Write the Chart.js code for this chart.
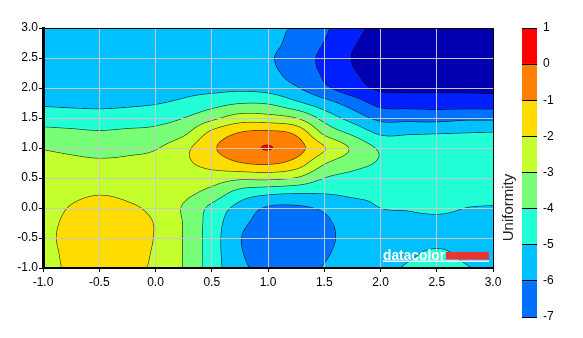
<!DOCTYPE html>
<html lang="en">
<head>
<meta charset="UTF-8">
<title>Uniformity</title>
<script src="https://cdn.jsdelivr.net/npm/chart.js@4"></script>
<style>
  html, body { margin: 0; padding: 0; background: #fff; }
  #wrap { position: relative; width: 583px; height: 338px; }
  #plotBox { position: absolute; left: 0; top: 0; width: 583px; height: 338px; }
  #barBox { position: absolute; left: 500px; top: 0; width: 83px; height: 338px; }
</style>
</head>
<body>
<div id="wrap">
  <div id="plotBox"><canvas id="plot"></canvas></div>
  <div id="barBox"><canvas id="scaleBar"></canvas></div>
</div>
<script>
// grid positions (every 0.25)
const xGrid = [-1, -0.75, -0.5, -0.25, 0, 0.25, 0.5, 0.75, 1, 1.25, 1.5, 1.75, 2, 2.25, 2.5, 2.75, 3];
const yGrid = [3, 2.75, 2.5, 2.25, 2, 1.75, 1.5, 1.25, 1, 0.75, 0.5, 0.25, 0, -0.25, -0.5, -0.75, -1];

// uniformity values, one row per y, x from -1 to 3
const rowY300 = [-5.45, -5.45, -5.45, -5.5, -5.5, -5.55, -5.65, -5.7, -5.85, -6.1, -6.83, -7.67, -8.3, -8.6, -8.8, -8.9, -9.0];
const rowY275 = [-5.45, -5.45, -5.45, -5.48, -5.5, -5.6, -5.7, -5.75, -5.78, -6.3, -7.03, -7.9, -8.35, -8.65, -8.85, -8.95, -9.0];
const rowY250 = [-5.4, -5.42, -5.42, -5.45, -5.45, -5.55, -5.7, -5.8, -5.9, -6.5, -7.23, -8.03, -8.4, -8.65, -8.85, -8.9, -8.95];
const rowY225 = [-5.35, -5.37, -5.38, -5.4, -5.4, -5.45, -5.5, -5.6, -5.75, -6.4, -7.13, -7.9, -8.3, -8.5, -8.65, -8.7, -8.75];
const rowY200 = [-5.25, -5.28, -5.3, -5.32, -5.3, -5.25, -5.25, -5.2, -5.35, -5.9, -6.8, -7.57, -8.15, -8.2, -8.2, -8.2, -8.25];
const rowY175 = [-5.12, -5.18, -5.22, -5.15, -5.05, -4.82, -4.4, -4.05, -4.1, -4.8, -5.6, -6.45, -7.32, -7.4, -7.45, -7.48, -7.5];
const rowY150 = [-4.42, -4.5, -4.55, -4.5, -4.35, -4.0, -3.25, -2.55, -2.6, -3.0, -4.35, -5.4, -6.25, -6.3, -6.35, -6.2, -6.2];
const rowY125 = [-3.71, -3.8, -3.9, -3.8, -3.7, -3.2, -1.75, -0.95, -0.75, -1.2, -3.2, -4.2, -5.15, -5.1, -5.05, -5.0, -4.95];
const rowY100 = [-3.05, -3.2, -3.35, -3.25, -3.07, -2.3, -1.15, -0.45, 0.03, -0.6, -1.95, -3.15, -4.15, -4.5, -4.55, -4.5, -4.5];
const rowY075 = [-2.75, -2.8, -2.85, -2.8, -2.65, -2.2, -1.6, -1.05, -0.85, -1.4, -2.9, -3.6, -4.1, -4.4, -4.45, -4.4, -4.4];
const rowY050 = [-2.6, -2.5, -2.45, -2.45, -2.45, -2.55, -2.55, -2.8, -2.75, -3.05, -4.0, -4.35, -4.6, -4.55, -4.5, -4.45, -4.5];
const rowY025 = [-2.5, -2.2, -2.05, -2.15, -2.3, -2.75, -3.35, -4.4, -4.8, -4.95, -4.95, -4.85, -4.9, -4.75, -4.65, -4.75, -4.75];
const rowY000 = [-2.4, -1.95, -1.75, -1.9, -2.2, -3.1, -4.25, -5.35, -6.1, -6.15, -5.85, -5.3, -5.0, -4.95, -4.85, -5.0, -5.05];
const rowYm025 = [-2.3, -1.8, -1.55, -1.75, -2.05, -3.05, -4.45, -5.75, -6.3, -6.4, -6.15, -5.6, -5.35, -5.2, -5.2, -5.2, -5.3];
const rowYm050 = [-2.25, -1.75, -1.5, -1.72, -2.05, -3.05, -4.5, -5.95, -6.4, -6.45, -6.2, -5.7, -5.5, -5.3, -5.25, -5.25, -5.35];
const rowYm075 = [-2.3, -1.8, -1.55, -1.75, -2.1, -3.05, -4.5, -5.9, -6.35, -6.4, -6.1, -5.65, -5.45, -5.15, -4.88, -5.15, -5.3];
const rowYm100 = [-2.35, -1.85, -1.65, -1.8, -2.15, -3.05, -4.5, -5.75, -6.3, -6.3, -5.95, -5.55, -5.3, -4.88, -4.55, -4.93, -5.2];

const zGrid = [rowY300, rowY275, rowY250, rowY225, rowY200, rowY175, rowY150, rowY125, rowY100,
               rowY075, rowY050, rowY025, rowY000, rowYm025, rowYm050, rowYm075, rowYm100];

// contour levels and the fill of each band (band 0 is above the first level)
const contourLevels = [0, -1, -2, -3, -4, -5, -6, -7, -8];
const bandColors = ['#ff0000', '#ff8000', '#ffdc00', '#c4ff2e', '#78ff78', '#22ffd6', '#00c0ff', '#0070ff', '#0020ff', '#0000b0'];

// colour scale on the right
const scaleTicks = [1, 0, -1, -2, -3, -4, -5, -6, -7];
const scaleTitle = 'Uniformity';
const axisTicks = [-1, -0.5, 0, 0.5, 1, 1.5, 2, 2.5, 3];

const FONT = '"Liberation Sans", Arial, sans-serif';

function node(r, c) {
    const nr = zGrid.length, nc = xGrid.length;
    if (r < 0) return 2 * node(0, c) - node(1, c);
    if (r >= nr) return 2 * node(nr - 1, c) - node(nr - 2, c);
    if (c < 0) return 2 * node(r, 0) - node(r, 1);
    if (c >= nc) return 2 * node(r, nc - 1) - node(r, nc - 2);
    return zGrid[r][c];
}

function catmull(p0, p1, p2, p3, t) {
    return p1 + 0.5 * t * (p2 - p0 + t * (2 * p0 - 5 * p1 + 4 * p2 - p3 + t * (3 * (p1 - p2) + p3 - p0)));
}

// smooth value between the grid nodes
function zAt(x, y) {
    const gx = (x - xGrid[0]) / (xGrid[1] - xGrid[0]);
    const gy = (yGrid[0] - y) / (yGrid[0] - yGrid[1]);
    const c = Math.min(Math.max(Math.floor(gx), 0), xGrid.length - 2);
    const r = Math.min(Math.max(Math.floor(gy), 0), yGrid.length - 2);
    const tx = gx - c, ty = gy - r;
    const v = [];
    for (let k = -1; k <= 2; k++) {
        v.push(catmull(node(r + k, c - 1), node(r + k, c), node(r + k, c + 1), node(r + k, c + 2), tx));
    }
    return catmull(v[0], v[1], v[2], v[3], ty);
}

function bandOf(z) {
    for (let i = 0; i < contourLevels.length; i++) {
        if (z >= contourLevels[i]) return i;
    }
    return contourLevels.length;
}

function hexRgb(h) {
    return [parseInt(h.slice(1, 3), 16), parseInt(h.slice(3, 5), 16), parseInt(h.slice(5, 7), 16)];
}
const bandRgb = bandColors.map(hexRgb);

const contourPlugin = {
    id: 'contour',
    beforeDraw(chart) {
        const {ctx, chartArea: a, scales: {x: xs, y: ys}} = chart;
        const W = Math.round(a.right - a.left), H = Math.round(a.bottom - a.top);
        const SW = W + 2;
        const zb = new Float32Array(SW * (H + 2));
        for (let j = -1; j <= H; j++) {
            const yv = ys.getValueForPixel(a.top + j + 0.5);
            for (let i = -1; i <= W; i++) {
                zb[(j + 1) * SW + i + 1] = zAt(xs.getValueForPixel(a.left + i + 0.5), yv);
            }
        }
        const off = document.createElement('canvas');
        off.width = W; off.height = H;
        const octx = off.getContext('2d');
        const img = octx.createImageData(W, H);
        const lo = contourLevels[contourLevels.length - 1], hi = contourLevels[0];
        for (let j = 0; j < H; j++) {
            for (let i = 0; i < W; i++) {
                const k = (j + 1) * SW + i + 1;
                const z = zb[k];
                const col = bandRgb[bandOf(z)];
                const gx = (zb[k + 1] - zb[k - 1]) / 2;
                const gy = (zb[k + SW] - zb[k - SW]) / 2;
                const g = Math.sqrt(gx * gx + gy * gy) || 1e-6;
                let L = Math.round(z);
                L = Math.max(lo, Math.min(hi, L));
                const d = Math.abs(z - L) / g;
                const alpha = Math.max(0, 1 - d / 0.8) * 0.6;
                const p = (j * W + i) * 4;
                img.data[p] = col[0] * (1 - alpha);
                img.data[p + 1] = col[1] * (1 - alpha);
                img.data[p + 2] = col[2] * (1 - alpha);
                img.data[p + 3] = 255;
            }
        }
        octx.putImageData(img, 0, 0);
        ctx.drawImage(off, a.left, a.top, W, H);
    },
    afterDraw(chart) {
        const {ctx, chartArea: a} = chart;
        ctx.save();
        // thin frame on top and right
        ctx.strokeStyle = '#000';
        ctx.lineWidth = 1;
        ctx.beginPath();
        ctx.moveTo(a.left, Math.round(a.top) + 0.5);
        ctx.lineTo(Math.round(a.right) + 0.5, Math.round(a.top) + 0.5);
        ctx.lineTo(Math.round(a.right) + 0.5, a.bottom);
        ctx.stroke();
        // datacolor mark in the lower right corner
        const r = a.right - 4, b = a.bottom - 7.5;
        ctx.fillStyle = '#ee3333';
        ctx.fillRect(r - 43, b - 8.5, 43, 7.5);
        ctx.fillStyle = '#fff';
        ctx.fillRect(r - 106, b, 106, 1.5);
        ctx.font = 'bold 14px ' + FONT;
        ctx.textBaseline = 'alphabetic';
        ctx.fillText('datacolor', r - 106, b - 1, 62);
        ctx.restore();
    }
};

const gridPoints = [];
yGrid.forEach((yv, r) => xGrid.forEach((xv, c) => gridPoints.push({x: xv, y: yv, z: zGrid[r][c]})));

const tickFont = {family: FONT, size: 12};

new Chart(document.getElementById('plot'), {
    type: 'scatter',
    data: {datasets: [{data: gridPoints, pointRadius: 0, pointHoverRadius: 0}]},
    options: {
        responsive: true,
        maintainAspectRatio: false,
        animation: false,
        events: [],
        layout: {padding: {left: 0, top: 28, right: 90, bottom: 0}},
        plugins: {legend: {display: false}, tooltip: {enabled: false}},
        scales: {
            x: {
                type: 'linear', min: axisTicks[0], max: axisTicks[axisTicks.length - 1],
                afterBuildTicks: s => { s.ticks = axisTicks.map(v => ({value: v})); },
                ticks: {font: tickFont, color: '#000', padding: 3, maxRotation: 0, callback: v => v.toFixed(1)},
                grid: {color: '#c8c8c8', lineWidth: 1, tickColor: '#000', tickLength: 4},
                border: {color: '#000', width: 2},
                afterFit: s => { s.height = 70; s.paddingLeft = 0; s.paddingRight = 0; }
            },
            y: {
                type: 'linear', min: axisTicks[0], max: axisTicks[axisTicks.length - 1],
                afterBuildTicks: s => { s.ticks = axisTicks.map(v => ({value: v})); },
                ticks: {font: tickFont, color: '#000', padding: 1, callback: v => v.toFixed(1)},
                grid: {color: '#c8c8c8', lineWidth: 1, tickColor: '#000', tickLength: 4},
                border: {color: '#000', width: 3},
                afterFit: s => { s.width = 43; s.paddingTop = 0; s.paddingBottom = 0; }
            }
        }
    },
    plugins: [contourPlugin]
});

// colour scale: one floating bar per band
const barSets = [];
for (let i = 0; i < scaleTicks.length - 1; i++) {
    barSets.push({
        data: [[scaleTicks[i + 1], scaleTicks[i]]],
        backgroundColor: bandColors[i],
        borderWidth: 0,
        barPercentage: 1,
        categoryPercentage: 1,
        grouped: false
    });
}

const titlePlugin = {
    id: 'scaleTitle',
    afterDraw(chart) {
        const ctx = chart.ctx;
        ctx.save();
        ctx.translate(9, 207.5);
        ctx.rotate(-Math.PI / 2);
        ctx.font = '15px ' + FONT;
        ctx.fillStyle = '#222';
        ctx.textAlign = 'center';
        ctx.textBaseline = 'middle';
        ctx.fillText(scaleTitle, 0, 0);
        ctx.restore();
    }
};

new Chart(document.getElementById('scaleBar'), {
    type: 'bar',
    data: {labels: [scaleTitle], datasets: barSets},
    options: {
        responsive: true,
        maintainAspectRatio: false,
        animation: false,
        events: [],
        layout: {padding: {left: 22, top: 28, right: 0, bottom: 21}},
        plugins: {legend: {display: false}, tooltip: {enabled: false}},
        scales: {
            x: {display: false},
            y: {
                position: 'right',
                min: scaleTicks[scaleTicks.length - 1], max: scaleTicks[0],
                ticks: {stepSize: 1, font: tickFont, color: '#000', padding: 6},
                grid: {color: '#000', lineWidth: 1, drawTicks: false, z: 1},
                border: {display: false},
                afterFit: s => { s.width = 46; s.paddingTop = 0; s.paddingBottom = 0; }
            }
        }
    },
    plugins: [titlePlugin]
});
</script>
</body>
</html>
